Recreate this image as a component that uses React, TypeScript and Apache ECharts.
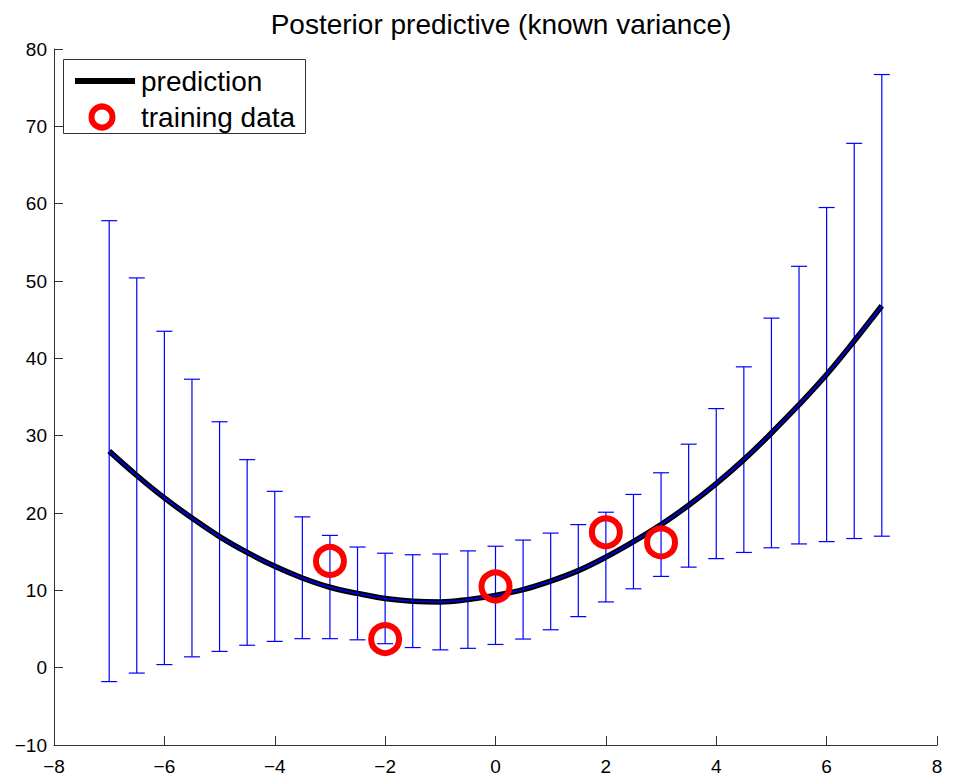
import React, { useEffect, useRef } from "react";
import * as echarts from "echarts";

// x positions of predictions
const xs = [-7, -6.5, -6, -5.5, -5, -4.5, -4, -3.5, -3, -2.5, -2, -1.5, -1, -0.5, 0, 0.5, 1, 1.5, 2, 2.5, 3, 3.5, 4, 4.5, 5, 5.5, 6, 6.5, 7];
// predictive mean
const meanVals = [28.0, 24.85, 21.95, 19.35, 16.95, 14.9, 13.1, 11.6, 10.4, 9.6, 8.95, 8.6, 8.5, 8.8, 9.35, 10.1, 11.2, 12.55, 14.3, 16.3, 18.5, 21.0, 23.8, 26.9, 30.35, 34.0, 37.9, 42.25, 46.8];
// error bar bounds
const upperVals = [57.8, 50.4, 43.5, 37.3, 31.8, 26.9, 22.8, 19.5, 17.1, 15.6, 14.8, 14.6, 14.7, 15.1, 15.7, 16.5, 17.4, 18.5, 20.1, 22.4, 25.2, 28.9, 33.5, 38.9, 45.2, 51.9, 59.5, 67.8, 76.7];
const lowerVals = [-1.8, -0.7, 0.4, 1.4, 2.1, 2.9, 3.4, 3.75, 3.75, 3.6, 3.1, 2.6, 2.3, 2.5, 3.0, 3.7, 4.9, 6.6, 8.5, 10.2, 11.8, 13.0, 14.1, 14.9, 15.5, 16.0, 16.3, 16.7, 17.0];
// training data
const trainX = [-3, -2, 0, 2, 3];
const trainY = [13.8, 3.7, 10.5, 17.5, 16.2];

const xTicks = { min: -8, max: 8, interval: 2 };
const yTicks = { min: -10, max: 80, interval: 10 };

const FONT = "Liberation Sans, Arial, Helvetica, sans-serif";
const AXIS_COLOR = "#333333";

export default function App() {
  const ref = useRef<HTMLDivElement>(null);

  useEffect(() => {
    if (!ref.current) return;
    const chart = echarts.init(ref.current, null, { renderer: "svg" });

    const fmt = (v: number) => String(v).replace("-", "\u2212");

    const errData = xs.map((x, i) => [x, lowerVals[i], upperVals[i]]);
    const meanData = xs.map((x, i) => [x, meanVals[i]]);
    const trainData = trainX.map((x, i) => [x, trainY[i]]);

    chart.setOption({
      animation: false,
      backgroundColor: "#ffffff",
      title: {
        text: "Posterior predictive (known variance)",
        left: 496,
        top: 5,
        textAlign: "center",
        textStyle: { fontSize: 28, fontWeight: "normal", fontFamily: FONT, color: "#000" },
      },
      grid: { left: 54, right: 21, top: 49, bottom: 30, containLabel: false },
      xAxis: {
        type: "value",
        min: xTicks.min,
        max: xTicks.max,
        interval: xTicks.interval,
        axisLine: { show: true, onZero: false, lineStyle: { color: AXIS_COLOR, width: 1 } },
        axisTick: { show: true, inside: true, length: 9, lineStyle: { color: AXIS_COLOR, width: 1 } },
        axisLabel: { margin: 12, fontSize: 19, color: "#000", fontFamily: FONT, formatter: fmt },
        splitLine: { show: false },
      },
      yAxis: {
        type: "value",
        min: yTicks.min,
        max: yTicks.max,
        interval: yTicks.interval,
        axisLine: { show: true, onZero: false, lineStyle: { color: AXIS_COLOR, width: 1 } },
        axisTick: { show: true, inside: true, length: 9, lineStyle: { color: AXIS_COLOR, width: 1 } },
        axisLabel: { margin: 7, fontSize: 19, color: "#000", fontFamily: FONT, formatter: fmt },
        splitLine: { show: false },
      },
      series: [
        {
          type: "custom",
          name: "error bars",
          z: 1,
          data: errData,
          encode: { x: 0, y: [1, 2] },
          renderItem: (_params: any, api: any) => {
            const x = api.value(0);
            const lo = api.coord([x, api.value(1)]);
            const hi = api.coord([x, api.value(2)]);
            const hw = 8;
            const style = { stroke: "#0000ff", lineWidth: 1.2 };
            return {
              type: "group",
              children: [
                { type: "line", shape: { x1: lo[0], y1: lo[1], x2: hi[0], y2: hi[1] }, style },
                { type: "line", shape: { x1: hi[0] - hw, y1: hi[1], x2: hi[0] + hw, y2: hi[1] }, style },
                { type: "line", shape: { x1: lo[0] - hw, y1: lo[1], x2: lo[0] + hw, y2: lo[1] }, style },
              ],
            };
          },
        },
        {
          type: "line",
          name: "prediction",
          z: 2,
          data: meanData,
          smooth: 0.4,
          symbol: "none",
          showSymbol: false,
          lineStyle: { color: "#000000", width: 5.5 },
        },
        {
          type: "line",
          name: "mean",
          z: 3,
          data: meanData,
          smooth: 0.4,
          symbol: "none",
          showSymbol: false,
          lineStyle: { color: "#0000ff", width: 1.5 },
        },
        {
          type: "scatter",
          name: "training data",
          z: 4,
          data: trainData,
          symbol: "circle",
          symbolSize: 28,
          itemStyle: { color: "rgba(0,0,0,0)", borderColor: "#ff0000", borderWidth: 6, opacity: 1 },
        },
      ],
      graphic: [
        {
          type: "group",
          z: 100,
          children: [
            {
              type: "rect",
              shape: { x: 63.5, y: 59.5, width: 242, height: 74 },
              style: { fill: "#ffffff", stroke: "#333333", lineWidth: 1 },
            },
            {
              type: "line",
              shape: { x1: 75, y1: 81, x2: 135, y2: 81 },
              style: { stroke: "#000000", lineWidth: 6 },
            },
            {
              type: "text",
              x: 141,
              y: 81,
              style: { text: "prediction", fontSize: 28, fontFamily: FONT, fill: "#000", textVerticalAlign: "middle", verticalAlign: "middle" },
            },
            {
              type: "circle",
              shape: { cx: 102, cy: 117, r: 10.5 },
              style: { fill: "none", stroke: "#ff0000", lineWidth: 6 },
            },
            {
              type: "text",
              x: 141,
              y: 117,
              style: { text: "training data", fontSize: 28, fontFamily: FONT, fill: "#000", textVerticalAlign: "middle", verticalAlign: "middle" },
            },
          ],
        },
      ],
    });

    return () => chart.dispose();
  }, []);

  return (
    <div
      ref={ref}
      style={{ position: "fixed", left: 0, top: 0, width: 958, height: 776, background: "#fff" }}
    />
  );
}
